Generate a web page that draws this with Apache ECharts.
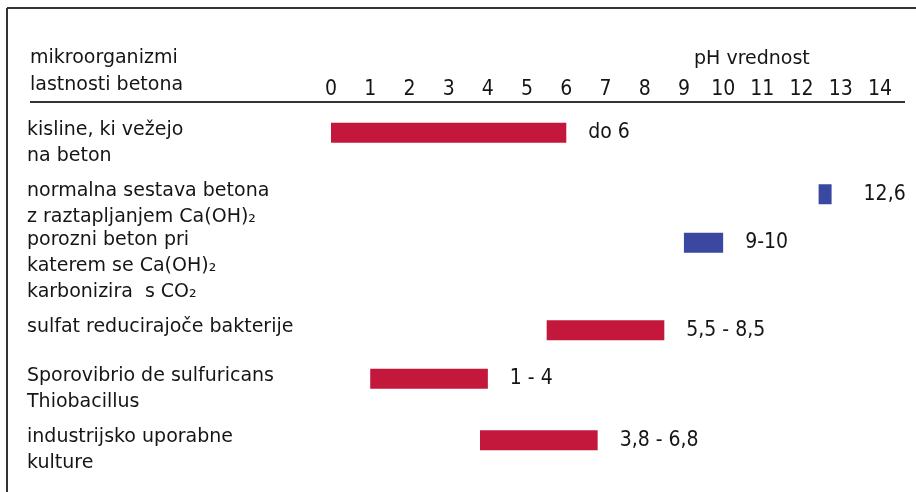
<!DOCTYPE html>
<html>
<head>
<meta charset="utf-8">
<script src="https://cdn.jsdelivr.net/npm/echarts@6/dist/echarts.min.js"></script>
<style>
html,body{margin:0;padding:0;background:#fff;}
#chart{width:916px;height:492px;}
</style>
</head>
<body>
<div id="chart"></div>
<script>
// ---- data ----
const categories = [
  'kisline, ki vežejo\nna beton',
  'normalna sestava betona\nz raztapljanjem Ca(OH)₂',
  'porozni beton pri\nkaterem se Ca(OH)₂\nkarbonizira  s CO₂',
  'sulfat reducirajoče bakterije',
  'Sporovibrio de sulfuricans\nThiobacillus',
  'industrijsko uporabne\nkulture'
];
const rangeStart = [0, 12.6, 9, 5.5, 1, 3.8];
const rangeEnd   = [6, 12.6, 10, 8.5, 4, 6.8];
const rangeLabels = ['do 6', '12,6', '9-10', '5,5 - 8,5', '1 - 4', '3,8 - 6,8'];
const barGroup = ['acid', 'concrete', 'concrete', 'micro', 'micro', 'micro'];
const xTicks = [0,1,2,3,4,5,6,7,8,9,10,11,12,13,14];
const headerLeft = ['mikroorganizmi', 'lastnosti betona'];
const xTitle = 'pH vrednost';

const colors = { acid: '#c3173b', micro: '#c3173b', concrete: '#3a48a2' };
const textFont = 'DejaVu Sans';
const numFont = '"Liberation Sans Narrow", "DejaVu Sans Condensed", "Liberation Sans", sans-serif';

const seriesData = categories.map((c, i) => [rangeStart[i], rangeEnd[i], i]);

const chart = echarts.init(document.getElementById('chart'));
const LINE_H = 26;

chart.setOption({
  backgroundColor: '#ffffff',
  animation: false,
  grid: { left: 331, right: 36, top: 112, bottom: 11, containLabel: false },
  xAxis: {
    type: 'value', position: 'top', min: xTicks[0], max: xTicks[xTicks.length - 1], interval: 1,
    axisLine: { show: false }, axisTick: { show: false }, splitLine: { show: false },
    axisLabel: { margin: 12, color: '#151515', fontFamily: numFont, fontSize: 21,
      formatter: v => xTicks.indexOf(v) >= 0 ? String(v) : '' }
  },
  yAxis: {
    type: 'category', inverse: true, data: categories,
    axisLine: { show: false }, axisTick: { show: false }, splitLine: { show: false },
    axisLabel: { align: 'left', margin: 304, color: '#151515', fontFamily: textFont,
      fontSize: 19, lineHeight: LINE_H }
  },
  series: [{
    type: 'custom',
    data: seriesData,
    encode: { x: [0, 1], y: 2 },
    renderItem: function (params, api) {
      const idx = api.value(2);
      const p0 = api.coord([api.value(0), idx]);
      const p1 = api.coord([api.value(1), idx]);
      const nLines = categories[idx].split('\n').length;
      const cy = p0[1] - (nLines - 1) * LINE_H / 2 + 3;
      const h = 20;
      let x0 = p0[0], w = p1[0] - p0[0];
      if (w < 13) { x0 = p0[0] - 6.5 + w / 2; w = 13; }
      const col = colors[barGroup[idx]];
      return {
        type: 'group',
        children: [
          { type: 'rect', shape: { x: x0, y: cy - h / 2, width: w, height: h },
            style: { fill: col } },
          { type: 'text', style: { text: rangeLabels[idx], x: x0 + w + (w < 20 ? 32 : 22), y: cy,
              verticalAlign: 'middle', align: 'left', fill: '#151515',
              font: '21px ' + numFont } }
        ]
      };
    }
  }],
  graphic: [
    { type: 'line', shape: { x1: 7, y1: 8, x2: 916, y2: 8 }, style: { stroke: '#333', lineWidth: 2 } },
    { type: 'line', shape: { x1: 7, y1: 8, x2: 7, y2: 492 }, style: { stroke: '#333', lineWidth: 2 } },
    { type: 'line', shape: { x1: 30, y1: 102, x2: 905, y2: 102 }, style: { stroke: '#333', lineWidth: 2 } },
    { type: 'text', left: 30, top: 49, style: { text: headerLeft[0], fill: '#151515', font: '19px "DejaVu Sans"' } },
    { type: 'text', left: 30, top: 76, style: { text: headerLeft[1], fill: '#151515', font: '19px "DejaVu Sans"' } },
    { type: 'text', left: 694, top: 50, style: { text: xTitle, fill: '#151515', font: '19px "DejaVu Sans"' } }
  ]
});
</script>
</body>
</html>
